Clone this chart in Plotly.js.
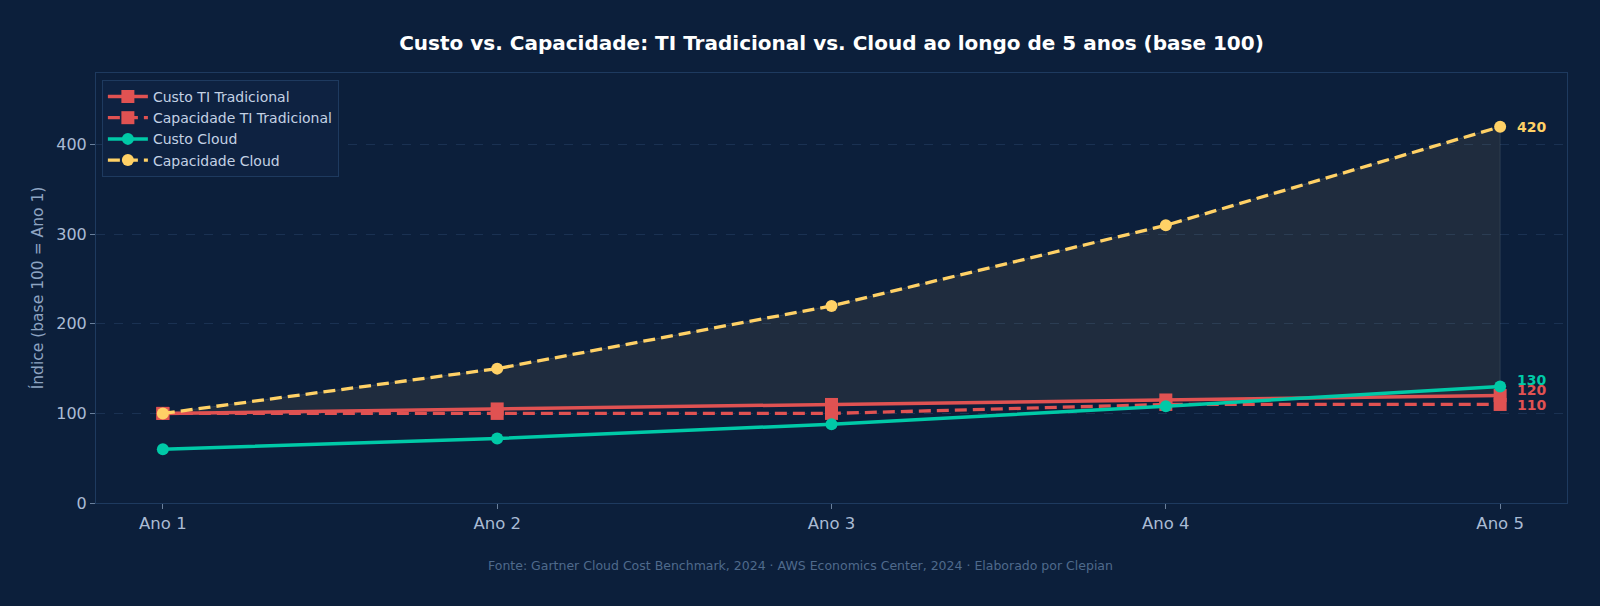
<!DOCTYPE html>
<html>
<head>
<meta charset="utf-8">
<script src="https://cdn.plot.ly/plotly-3.0.1.min.js"></script>
<style>
  html, body { margin: 0; padding: 0; background: #0c1f3b; }
  #chart { width: 1600px; height: 606px; }
</style>
</head>
<body>
<div id="chart"></div>
<script>
const categories = ["Ano 1", "Ano 2", "Ano 3", "Ano 4", "Ano 5"];
const custoTI = [100, 105, 110, 115, 120];
const capacidadeTI = [100, 100, 100, 110, 110];
const custoCloud = [60, 72, 88, 108, 130];
const capacidadeCloud = [100, 150, 220, 310, 420];
const yTicks = [0, 100, 200, 300, 400];

const RED = "#e05252", TEAL = "#00c9a7", YEL = "#ffd166";
const FONT = "DejaVu Sans, Verdana, sans-serif";

// fill region between Capacidade Cloud and Custo TI Tradicional
const fillX = categories.concat(categories.slice().reverse());
const fillY = capacidadeCloud.concat(custoTI.slice().reverse());

const traces = [
  {
    x: fillX, y: fillY, type: "scatter", mode: "lines",
    fill: "toself", fillcolor: "rgba(255,209,102,0.08)",
    line: { color: "rgba(160,170,185,0.18)", width: 1 },
    showlegend: false, hoverinfo: "skip"
  },
  {
    x: categories, y: custoTI, name: "Custo TI Tradicional",
    type: "scatter", mode: "lines+markers",
    line: { color: RED, width: 3.5 },
    marker: { symbol: "square", size: 13, color: RED }
  },
  {
    x: categories, y: capacidadeTI, name: "Capacidade TI Tradicional",
    type: "scatter", mode: "lines+markers",
    line: { color: RED, width: 3.3, dash: "12px,6px" },
    marker: { symbol: "square", size: 13, color: RED }
  },
  {
    x: categories, y: custoCloud, name: "Custo Cloud",
    type: "scatter", mode: "lines+markers",
    line: { color: TEAL, width: 3.5 },
    marker: { symbol: "circle", size: 12, color: TEAL }
  },
  {
    x: categories, y: capacidadeCloud, name: "Capacidade Cloud",
    type: "scatter", mode: "lines+markers",
    line: { color: YEL, width: 3.3, dash: "12px,6px" },
    marker: { symbol: "circle", size: 12, color: YEL }
  }
];

const last = categories.length - 1;
const endLabels = [
  { v: capacidadeCloud[last], c: YEL, s: 0 },
  { v: custoCloud[last], c: TEAL, s: 7 },
  { v: custoTI[last], c: RED, s: 6 },
  { v: capacidadeTI[last], c: RED, s: -1 }
];

const annotations = endLabels.map(l => ({
  x: categories[last], y: l.v, xref: "x", yref: "y",
  text: "<b>" + l.v + "</b>", showarrow: false,
  xanchor: "left", yanchor: "middle", xshift: 15, yshift: l.s,
  font: { family: FONT, size: 14, color: l.c }
}));

annotations.push({
  x: 0.4786, y: -0.1465, xref: "paper", yref: "paper",
  text: "Fonte: Gartner Cloud Cost Benchmark, 2024 · AWS Economics Center, 2024 · Elaborado por Clepian",
  showarrow: false, xanchor: "center", yanchor: "middle",
  font: { family: FONT, size: 12.5, color: "#4f6a8c" }
});

const layout = {
  width: 1600, height: 606,
  paper_bgcolor: "#0c1f3b", plot_bgcolor: "#0c1f3b",
  margin: { l: 96, r: 33, t: 73, b: 103 },
  font: { family: FONT, color: "#aabbd4" },
  title: {
    text: "<b>Custo vs. Capacidade: TI Tradicional vs. Cloud ao longo de 5 anos (base 100)</b>",
    font: { family: FONT, size: 20, color: "#ffffff" },
    x: 0.5, xref: "paper", xanchor: "center",
    y: 0.929, yref: "container", yanchor: "middle"
  },
  xaxis: {
    type: "category", range: [-0.2, 4.2],
    showgrid: false, zeroline: false,
    showline: true, mirror: true, linecolor: "#1e3a5f", linewidth: 1,
    ticks: "outside", ticklen: 5, tickcolor: "#6a809c",
    tickfont: { family: FONT, size: 16.5, color: "#aabbd4" }
  },
  yaxis: {
    range: [0, 480], tickvals: yTicks,
    showgrid: true, gridcolor: "#1a3152", griddash: "dash", gridwidth: 1,
    zeroline: false,
    showline: true, mirror: true, linecolor: "#1e3a5f", linewidth: 1,
    ticks: "outside", ticklen: 5, tickcolor: "#6a809c",
    tickfont: { family: FONT, size: 16, color: "#aabbd4" },
    title: { text: "Índice (base 100 = Ano 1)", standoff: 8,
             font: { family: FONT, size: 15.5, color: "#8ea4c2" } }
  },
  legend: {
    x: 0.004, y: 0.984, xanchor: "left", yanchor: "top",
    bgcolor: "#0e2241", bordercolor: "#1e3a5f", borderwidth: 1,
    font: { family: FONT, size: 14, color: "#c3d1e4" },
    itemwidth: 40, tracegroupgap: 0,
    traceorder: "normal"
  },
  annotations: annotations,
  showlegend: true
};

Plotly.newPlot("chart", traces, layout, { displayModeBar: false, staticPlot: true });
</script>
</body>
</html>
